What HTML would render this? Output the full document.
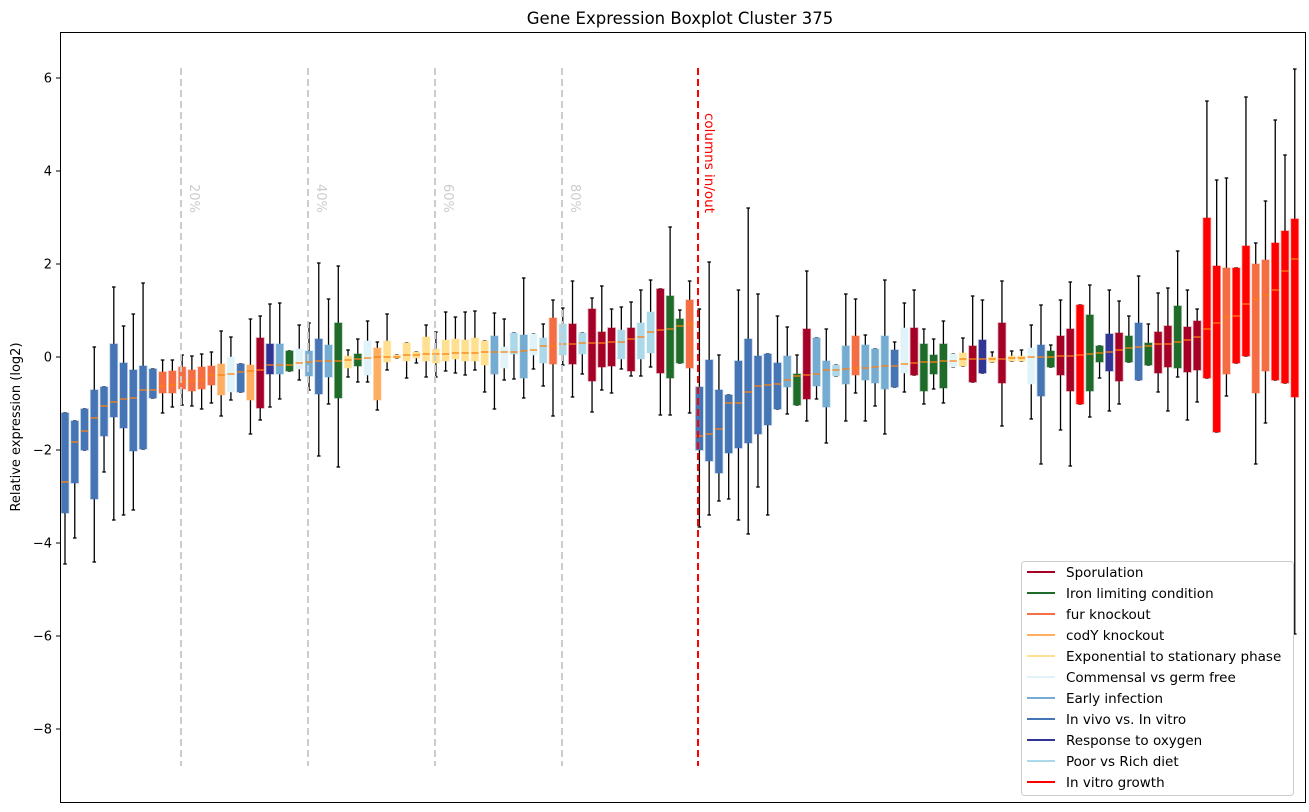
<!DOCTYPE html>
<html><head><meta charset="utf-8"><style>
body{margin:0;background:#fff;}
svg{display:block;font-family:"DejaVu Sans","Liberation Sans",sans-serif;}
</style></head><body>
<svg id="s" width="1309" height="812" xmlns="http://www.w3.org/2000/svg">
<rect width="1309" height="812" fill="#fff"/>
<text x="680" y="24" text-anchor="middle" font-size="16.5">Gene Expression Boxplot Cluster 375</text>
<text transform="translate(20,427) rotate(-90)" text-anchor="middle" font-size="13">Relative expression (log2)</text>
<g id="g"></g>
<g stroke="#ccc" stroke-width="2" stroke-dasharray="7,4">
<line x1="181" y1="68" x2="181" y2="766"/><line x1="308" y1="68" x2="308" y2="766"/>
<line x1="435" y1="68" x2="435" y2="766"/><line x1="562" y1="68" x2="562" y2="766"/>
</g>
<g fill="#ccc" font-size="13">
<text transform="translate(190,184) rotate(90)">20%</text>
<text transform="translate(317,184) rotate(90)">40%</text>
<text transform="translate(444,184) rotate(90)">60%</text>
<text transform="translate(571,184) rotate(90)">80%</text>
</g>
<line x1="698" y1="68" x2="698" y2="766" stroke="#f00" stroke-width="2" stroke-dasharray="7,4"/>
<text transform="translate(705,113) rotate(90)" fill="#f00" font-size="13.5">columns in/out</text>
<rect x="60.5" y="32.5" width="1245" height="770" fill="none" stroke="#000"/>
<g font-size="13" text-anchor="end" id="yt"></g>
<rect x="1021.5" y="561.5" width="272" height="234" rx="3" fill="#fff" fill-opacity="0.85" stroke="#ccc"/>
<g id="lg" font-size="13.5"></g>
</svg>
<script>
var C={S:"#a50026",I:"#1f6b2a",F:"#f46d43",C:"#fdae61",E:"#fee090",M:"#e0f3f8",K:"#74add1",V:"#4575b4",O:"#313695",P:"#abd9e9",R:"#ff0000"};
var d=[
["V",413,513,482,413,564],["V",421,483,442,421,538],["V",409,450,431,409,450],["V",390,499,418,347,562],["V",387,436,406,387,472],
["V",344,417,402,287,520],["V",363,428,399,326,515],["V",370,451,398,314,510],["V",366,449,390,283,449],["V",369,398,390,369,398],
["F",372,393,386,360,413],["F",371,393,385,360,407],["F",367,389,382,355,405],["F",370,391,381,356,406],["F",367,389,380,354,409],
["F",366,385,375,352,403],["C",364,395,375,331,416],["M",357,392,374,337,400],["V",364,392,372,364,392],["C",365,400,371,319,434],
["S",338,408,370,316,420],["O",344,374,365,304,407],["K",344,374,365,303,399],["I",351,371,365,351,371],["M",349,369,363,325,380],
["K",351,376,362,323,390],["V",339,394,361,263,456],["K",345,377,361,299,404],["I",323,398,361,266,467],["E",356,368,360,350,377],
["I",354,366,359,339,382],["M",341,375,358,321,382],["C",348,400,357,342,410],["E",341,362,357,314,370],["E",355,358,357,355,358],
["E",343,361,355,343,378],["E",352,358,355,352,363],["E",337,361,354,325,377],["E",349,363,354,332,377],["E",340,361,354,312,371],
["E",339,359,353,317,373],["E",340,361,353,312,375],["E",338,361,353,311,370],["E",341,365,352,341,392],["K",336,374,352,313,409],
["M",347,368,352,319,380],["P",333,354,352,333,379],["K",335,378,351,278,398],["M",334,355,350,334,369],["P",338,363,346,324,386],
["F",318,364,346,300,416],["P",324,355,344,308,365],["S",324,364,344,281,397],["P",333,354,343,333,374],["S",309,381,343,298,412],
["S",332,367,343,286,390],["S",328,366,342,309,393],["P",330,359,342,307,369],["S",328,371,339,302,376],["P",323,359,337,290,376],
["P",312,353,332,280,367],["S",289,373,330,289,415],["I",296,378,329,227,415],["I",319,363,326,310,363],["F",300,368,324,281,413],
["V",387,450,436,309,527],["V",360,461,434,262,515],["V",390,473,429,355,501],["V",395,453,403,395,499],["V",361,448,403,290,520],
["V",339,443,392,208,534],["V",356,434,386,294,487],["V",354,425,385,354,515],["V",363,409,384,316,409],["K",356,387,380,327,414],
["I",374,405,376,355,405],["S",329,399,375,271,421],["K",338,386,374,338,399],["K",361,407,370,329,443],["P",365,376,370,365,376],
["K",346,384,369,294,421],["F",336,375,368,299,393],["K",345,380,368,335,421],["K",349,383,367,349,406],["K",336,389,366,280,434],
["V",350,387,366,342,387],["M",328,373,364,303,392],["S",328,375,363,290,375],["I",344,391,362,329,404],["I",355,374,362,339,389],
["I",344,388,361,321,403],["M",354,367,361,354,367],["E",353,366,359,338,366],["S",346,382,359,296,382],["O",340,373,359,300,373],
["E",357,362,359,352,362],["S",323,383,359,281,426],["E",356,361,358,351,361],["E",356,361,358,350,361],["M",348,384,357,325,419],
["V",345,396,357,305,464],["I",351,367,357,345,367],["S",336,375,356,300,430],["S",329,391,356,282,466],["R",305,404,355,305,404],
["I",315,391,354,285,417],["I",346,362,353,346,378],["O",334,371,352,290,411],["S",333,381,350,301,404],["I",336,362,348,316,362],
["V",323,380,347,276,380],["I",343,365,346,324,365],["S",332,373,344,293,392],["S",326,367,344,288,411],["I",306,368,342,251,377],
["S",327,372,340,290,420],["S",321,370,337,309,402],["R",218,378,329,101,378],["R",266,432,323,180,432],["F",268,374,317,178,396],
["R",268,363,316,268,363],["R",246,356,304,97,356],["F",264,393,299,243,464],["F",260,371,295,201,423],["R",243,380,290,120,380],
["R",231,383,271,155,383],["R",219,397,259,69,634]];
var h="";
d.forEach(function(b,i){var x=65+i*9.76;
h+='<line x1="'+x+'" x2="'+x+'" y1="'+b[4]+'" y2="'+b[5]+'" stroke="#000" stroke-width="1.3"/>';
h+='<line x1="'+(x-1.8)+'" x2="'+(x+1.8)+'" y1="'+b[4]+'" y2="'+b[4]+'" stroke="#000" stroke-width="1.3"/>';
h+='<line x1="'+(x-1.8)+'" x2="'+(x+1.8)+'" y1="'+b[5]+'" y2="'+b[5]+'" stroke="#000" stroke-width="1.3"/>';
h+='<rect x="'+(x-3.6)+'" y="'+b[1]+'" width="7.2" height="'+Math.max(1,b[2]-b[1])+'" fill="'+C[b[0]]+'" stroke="'+C[b[0]]+'" stroke-opacity="0.35" stroke-width="1.5"/>';
h+='<line x1="'+(x-3.6)+'" x2="'+(x+3.6)+'" y1="'+b[3]+'" y2="'+b[3]+'" stroke="#ff7f0e" stroke-width="1.3"/>';
});
document.getElementById("g").innerHTML=h;
var t="";[6,4,2,0,-2,-4,-6,-8].forEach(function(v){var y=357-v*46.5;
t+='<line x1="56" x2="60" y1="'+y+'" y2="'+y+'" stroke="#000"/><text x="52" y="'+(y+4.5)+'">'+(v<0?"\u2212"+(-v):v)+'</text>';});
document.getElementById("yt").innerHTML=t;
var L=[["S","Sporulation"],["I","Iron limiting condition"],["F","fur knockout"],["C","codY knockout"],["E","Exponential to stationary phase"],["M","Commensal vs germ free"],["K","Early infection"],["V","In vivo vs. In vitro"],["O","Response to oxygen"],["P","Poor vs Rich diet"],["R","In vitro growth"]];
var l="";L.forEach(function(e,i){var y=572+i*21;
l+='<line x1="1027" x2="1055" y1="'+y+'" y2="'+y+'" stroke="'+C[e[0]]+'" stroke-width="2"/><text x="1066" y="'+(y+5)+'">'+e[1]+'</text>';});
document.getElementById("lg").innerHTML=l;
</script>
</body></html>
